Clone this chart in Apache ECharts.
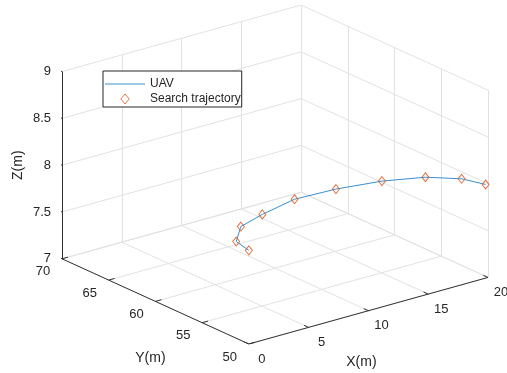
<!DOCTYPE html>
<html><head><meta charset="utf-8">
<script src="https://cdn.jsdelivr.net/npm/echarts@6/dist/echarts.min.js"></script>
<style>html,body{margin:0;padding:0;background:#fff}#c{width:507px;height:373px}</style>
</head><body><div id="c"></div>
<script>
// ---- data ----
const xTicks = [0, 5, 10, 15, 20];
const yTicks = [50, 55, 60, 65, 70];
const zTicks = [7, 7.5, 8, 8.5, 9];
const xTickLabels = ['0', '5', '10', '15', '20'];
const yTickLabels = ['50', '55', '60', '65', '70'];
const zTickLabels = ['7', '7.5', '8', '8.5', '9'];
const axisTitles = ['X(m)', 'Y(m)', 'Z(m)'];
const seriesNames = ['UAV', 'Search trajectory'];

// search trajectory waypoints (markers)
const trajX = [0, 0.35, 2.3, 4.8, 8.2, 11.5, 14.8, 17.5, 19.2, 19.8];
const trajY = [50, 51.8, 53.8, 54.7, 55.6, 55.4, 54.7, 53.5, 51.8, 50.0];
const trajZ = [8, 8, 8, 8, 8, 8, 8, 8, 8, 8];
// UAV flown path
const uavX = [0, 0.35, 2.3, 4.8, 8.2, 11.5, 14.8, 17.5, 19.2, 19.8];
const uavY = [50, 51.8, 53.8, 54.7, 55.6, 55.4, 54.7, 53.5, 51.8, 50.0];
const uavZ = [8, 8, 8, 8, 8, 8, 8, 8, 8, 8];

// ---- 3D view (orthographic, azimuth/elevation) ----
const AZ = 38 * Math.PI / 180, EL = 30 * Math.PI / 180;
const X0 = xTicks[0], X1 = xTicks[xTicks.length - 1];
const Y0 = yTicks[0], Y1 = yTicks[yTicks.length - 1];
const Z0 = zTicks[0], Z1 = zTicks[zTicks.length - 1];
function proj(x, y, z) {
  const a = (x - X0) / (X1 - X0), b = (y - Y0) / (Y1 - Y0), c = (z - Z0) / (Z1 - Z0);
  const u = a * Math.cos(AZ) - b * Math.sin(AZ);
  const v = Math.sin(EL) * (a * Math.sin(AZ) + b * Math.cos(AZ)) + Math.cos(EL) * c;
  return [u, v];
}
const uMin = proj(X0, Y1, Z0)[0], uMax = proj(X1, Y0, Z0)[0];
const vMin = proj(X0, Y0, Z0)[1], vMax = proj(X1, Y1, Z1)[1];

function seg(p, q) { return { coords: [proj(p[0], p[1], p[2]), proj(q[0], q[1], q[2])] }; }

// grid lines on the three back planes
const gridSegs = [];
xTicks.forEach(t => { gridSegs.push(seg([t, Y0, Z0], [t, Y1, Z0])); gridSegs.push(seg([t, Y1, Z0], [t, Y1, Z1])); });
yTicks.forEach(t => { gridSegs.push(seg([X0, t, Z0], [X1, t, Z0])); gridSegs.push(seg([X1, t, Z0], [X1, t, Z1])); });
zTicks.forEach(t => { gridSegs.push(seg([X0, Y1, t], [X1, Y1, t])); gridSegs.push(seg([X1, Y0, t], [X1, Y1, t])); });

// axis lines and ticks
const axisSegs = [
  seg([X0, Y0, Z0], [X1, Y0, Z0]),
  seg([X0, Y0, Z0], [X0, Y1, Z0]),
  seg([X0, Y1, Z0], [X0, Y1, Z1])
];
const tl = 0.025;
xTicks.forEach(t => axisSegs.push(seg([t, Y0, Z0], [t, Y0 + tl * (Y1 - Y0), Z0])));
yTicks.forEach(t => axisSegs.push(seg([X0, t, Z0], [X0 + tl * (X1 - X0), t, Z0])));
zTicks.forEach(t => axisSegs.push(seg([X0, Y1, t], [X0, Y1 + tl * (Y1 - Y0), t])));

// text labels
const FONT = '"Liberation Sans", Arial, Helvetica, sans-serif';
const labels = [];
xTicks.forEach((t, i) => labels.push({ p: proj(t, Y0, Z0), text: xTickLabels[i], dx: 13, dy: 15, align: 'center', size: 13 }));
yTicks.forEach((t, i) => labels.push({ p: proj(X0, t, Z0), text: yTickLabels[i], dx: -19, dy: 13, align: 'center', size: 13 }));
zTicks.forEach((t, i) => labels.push({ p: proj(X0, Y1, t), text: zTickLabels[i], dx: -11, dy: 0, align: 'right', size: 13 }));
labels.push({ p: proj((X0 + X1) / 2, Y0, Z0), text: axisTitles[0], dx: -7, dy: 51, align: 'center', size: 14 });
labels.push({ p: proj(X0, (Y0 + Y1) / 2, Z0), text: axisTitles[1], dx: -5, dy: 57, align: 'center', size: 14 });
labels.push({ p: proj(X0, Y1, (Z0 + Z1) / 2), text: axisTitles[2], dx: -44, dy: 0, align: 'center', size: 14, rot: Math.PI / 2 });

const LINE_C = '#3a8fcf', MARK_C = '#D95319';
const chart = echarts.init(document.getElementById('c'), null, { renderer: 'canvas' });
chart.setOption({
  animation: false,
  backgroundColor: '#fff',
  grid: { left: 62, right: 19, top: 5, bottom: 29, containLabel: false },
  xAxis: { type: 'value', min: uMin, max: uMax, show: false },
  yAxis: { type: 'value', min: vMin, max: vMax, show: false },
  legend: {
    data: [
      { name: seriesNames[0], icon: 'path://M0 0 H40 V1 H0 Z', itemStyle: { color: LINE_C, borderWidth: 0 } },
      { name: seriesNames[1], icon: 'path://M5 0 L10 6 L5 12 L0 6 Z', itemStyle: { color: 'rgba(255,255,255,0)', borderColor: MARK_C, borderWidth: 1 } }
    ],
    orient: 'vertical', left: 103, top: 71, symbolKeepAspect: true,
    itemWidth: 40, itemHeight: 10, itemGap: 3, padding: [7, 1, 2, 2],
    borderColor: '#262626', borderWidth: 1, backgroundColor: '#fff', borderRadius: 0,
    selectedMode: false,
    textStyle: { fontSize: 12, color: '#262626', fontFamily: FONT }
  },
  series: [
    { type: 'lines', name: 'grid', coordinateSystem: 'cartesian2d', silent: true, z: 1,
      lineStyle: { color: '#e2e2e2', width: 1, opacity: 1 }, data: gridSegs },
    { type: 'lines', name: 'axes', coordinateSystem: 'cartesian2d', silent: true, z: 2,
      lineStyle: { color: '#333333', width: 1, opacity: 1 }, data: axisSegs },
    { type: 'line', name: seriesNames[0], z: 3, symbol: 'none', showSymbol: false,
      lineStyle: { color: LINE_C, width: 1 }, itemStyle: { color: LINE_C },
      data: uavX.map((x, i) => proj(x, uavY[i], uavZ[i])) },
    { type: 'scatter', name: seriesNames[1], z: 4, symbol: 'diamond', symbolSize: [7, 9],
      itemStyle: { color: 'rgba(255,255,255,0)', borderColor: MARK_C, borderWidth: 1 },
      data: trajX.map((x, i) => proj(x, trajY[i], trajZ[i])) },
    { type: 'custom', name: 'labels', silent: true, z: 5,
      data: labels.map(l => l.p),
      renderItem: (params, api) => {
        const L = labels[params.dataIndex];
        const pt = api.coord([api.value(0), api.value(1)]);
        return { type: 'text', x: pt[0] + L.dx, y: pt[1] + L.dy, rotation: L.rot || 0,
          style: { text: L.text, fill: '#262626', font: L.size + 'px ' + FONT, align: L.align, verticalAlign: 'middle' } };
      } }
  ]
});
</script></body></html>
